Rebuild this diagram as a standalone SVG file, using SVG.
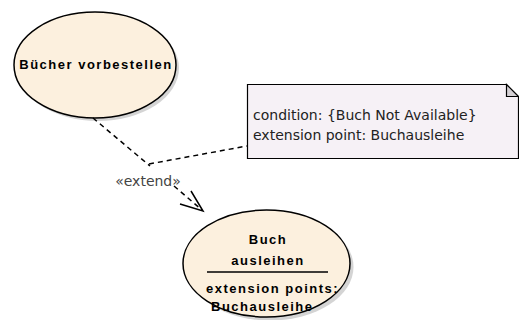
<svg xmlns="http://www.w3.org/2000/svg" width="519" height="320" viewBox="0 0 519 320">
  <style>
    .uc { fill: #fcf0de; stroke: #000; stroke-width: 1.5; }
    .shadow { fill: #b8b8b8; opacity: 0.6; }
    .bold { font-family: "Liberation Sans", Arial, sans-serif; font-weight: bold; font-size: 13px; letter-spacing: 1.5px; fill: #000; }
    .note { fill: #f6f1f6; stroke: #000; stroke-width: 1.2; }
    .fold { fill: #d4d0d4; stroke: #000; stroke-width: 1.2; }
    .ntext { font-family: "DejaVu Sans", Verdana, sans-serif; font-size: 14px; fill: #222; }
    .dash { fill: none; stroke: #000; stroke-width: 1.5; stroke-dasharray: 5 4; }
    .label { font-family: "DejaVu Sans", Verdana, sans-serif; font-size: 14px; fill: #444; }
  </style>

  <!-- use case: Bücher vorbestellen -->
  <g id="uc-vorbestellen">
    <ellipse class="shadow" cx="98" cy="68" rx="81" ry="53"/>
    <ellipse class="uc" cx="95" cy="65" rx="81" ry="53"/>
    <text class="bold" x="96" y="69" text-anchor="middle">Bücher vorbestellen</text>
  </g>

  <!-- use case: Buch ausleihen with extension points -->
  <g id="uc-ausleihen">
    <ellipse class="shadow" cx="270" cy="267" rx="83.5" ry="53.5"/>
    <ellipse class="uc" cx="266.5" cy="263.5" rx="83.5" ry="53.5"/>
    <text class="bold" x="268" y="244" text-anchor="middle">Buch</text>
    <text class="bold" x="268" y="265" text-anchor="middle">ausleihen</text>
    <line x1="207" y1="272" x2="328" y2="272" stroke="#000" stroke-width="1.5"/>
    <text class="bold" x="206" y="293">extension points:</text>
    <text class="bold" x="211" y="311">Buchausleihe</text>
  </g>

  <!-- note with extend condition -->
  <g id="note">
    <path class="note" d="M247.5 84.5 H506.5 L518.5 96.5 V158.5 H247.5 Z"/>
    <path class="fold" d="M506.5 84.5 V96.5 H518.5 Z"/>
    <text class="ntext" x="253" y="120">condition: {Buch Not Available}</text>
    <text class="ntext" x="253" y="140">extension point: Buchausleihe</text>
  </g>

  <!-- connectors -->
  <g id="connectors">
    <path class="dash" d="M93 118 L150 166"/>
    <path class="dash" d="M174 186 L202 210"/>
    <path fill="none" stroke="#000" stroke-width="1.5" d="M180 204 L203 211 L191 191"/>
    <path class="dash" d="M149 164 L247 146"/>
    <text class="label" x="148" y="186" text-anchor="middle">«extend»</text>
  </g>
</svg>
